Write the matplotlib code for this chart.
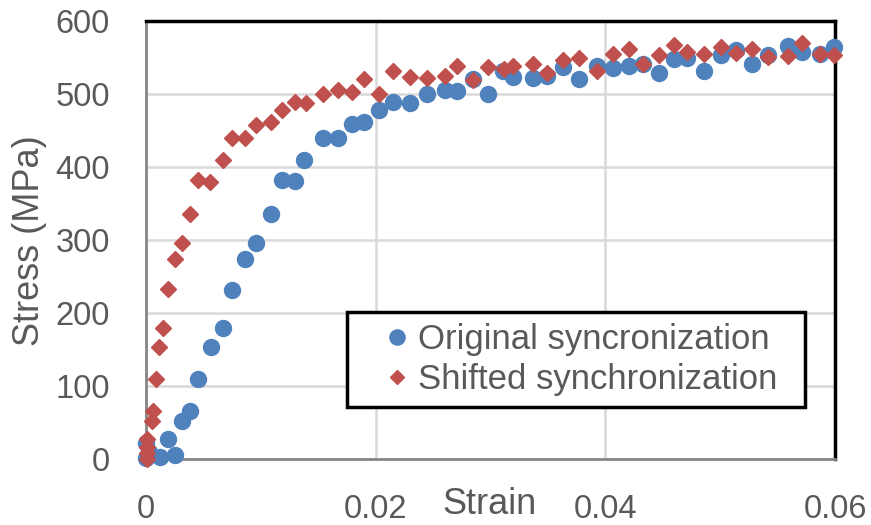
import matplotlib
matplotlib.use("Agg")
import matplotlib.pyplot as plt
from matplotlib.patches import Rectangle

# ---- data ----
orig_strain = [0.0000, 0.0000, 0.0003, 0.0012, 0.0019, 0.0025, 0.0031, 0.0038,
               0.0045, 0.0057, 0.0067, 0.0075, 0.0086, 0.0096, 0.0109, 0.0118,
               0.0130, 0.0138, 0.0154, 0.0167, 0.0179, 0.0190, 0.0203, 0.0215,
               0.0230, 0.0245, 0.0260, 0.0271, 0.0285, 0.0298, 0.0311, 0.0320,
               0.0337, 0.0349, 0.0363, 0.0377, 0.0393, 0.0407, 0.0421, 0.0433,
               0.0447, 0.0460, 0.0471, 0.0486, 0.0501, 0.0514, 0.0528, 0.0542,
               0.0559, 0.0571, 0.0587, 0.0599]
orig_stress = [22, 1, 10, 3, 28, 5, 52, 66,
               110, 153, 179, 232, 274, 296, 336, 382,
               381, 409, 440, 440, 459, 461, 478, 489,
               488, 500, 505, 504, 521, 500, 532, 523,
               522, 525, 537, 520, 538, 535, 538, 541,
               529, 548, 549, 532, 553, 560, 541, 553,
               566, 558, 555, 565]

shift_strain = [0.0001, 0.0001, 0.0001, 0.0001, 0.0005, 0.0006, 0.0009, 0.0011,
                0.0015, 0.0019, 0.0025, 0.0031, 0.0038, 0.0045, 0.0056, 0.0067,
                0.0075, 0.0086, 0.0096, 0.0109, 0.0118, 0.0130, 0.0139, 0.0154,
                0.0167, 0.0179, 0.0190, 0.0203, 0.0215, 0.0230, 0.0245, 0.0260,
                0.0271, 0.0285, 0.0298, 0.0312, 0.0320, 0.0337, 0.0349, 0.0363,
                0.0377, 0.0393, 0.0407, 0.0421, 0.0433, 0.0447, 0.0460, 0.0471,
                0.0486, 0.0501, 0.0514, 0.0528, 0.0542, 0.0559, 0.0571, 0.0587,
                0.0599]
shift_stress = [0, 8, 17, 28, 52, 66, 110, 153,
                180, 233, 274, 296, 336, 382, 380, 409,
                440, 440, 458, 461, 478, 489, 487, 500,
                505, 503, 521, 500, 531, 523, 522, 525,
                538, 519, 537, 534, 538, 541, 529, 547,
                549, 531, 555, 561, 541, 553, 567, 558,
                555, 565, 556, 562, 550, 552, 570, 555,
                553]

x_ticks = [0, 0.02, 0.04, 0.06]
x_tick_labels = ["0", "0.02", "0.04", "0.06"]
y_ticks = [0, 100, 200, 300, 400, 500, 600]
series_labels = ["Original syncronization", "Shifted synchronization"]

# ---- figure ----
W, H = 871, 525
fig = plt.figure(figsize=(W / 100, H / 100), dpi=100)
plt.rcParams['font.family'] = ['Liberation Sans', 'DejaVu Sans']
txt = '#595959'

ax = fig.add_axes([146 / W, 1 - 459 / H, (835 - 146) / W, (459 - 21) / H])
ax.set_xlim(0, 0.06)
ax.set_ylim(0, 600)
ax.set_xticks(x_ticks)
ax.set_xticklabels(x_tick_labels)
ax.set_yticks(y_ticks)

ax.grid(True, color='#D9D9D9', linewidth=1.8)
ax.set_axisbelow(True)

for s in ['top', 'right']:
    ax.spines[s].set_color('black')
    ax.spines[s].set_linewidth(2.5)
for s in ['left', 'bottom']:
    ax.spines[s].set_color('#868686')
    ax.spines[s].set_linewidth(2.0)

ax.tick_params(axis='both', length=0, labelsize=23.5, labelcolor=txt)
ax.tick_params(axis='x', pad=25)
ax.tick_params(axis='y', pad=26)

ax.plot(orig_strain, orig_stress, linestyle='none', marker='o', ms=11.5,
        color='#4F81BD', mec='#4F81BD', clip_on=False, zorder=4,
        label=series_labels[0])
ax.plot(shift_strain, shift_stress, linestyle='none', marker='D', ms=7.8,
        color='#C0504D', mec='#C0504D', clip_on=False, zorder=5,
        label=series_labels[1])

# legend box
rect = Rectangle((347 / W, 1 - 407 / H), 458 / W, 95 / H, transform=fig.transFigure,
                 facecolor='white', edgecolor='black', linewidth=2.5, zorder=6)
ax.add_patch(rect)
leg = ax.legend(loc='center left', bbox_to_anchor=(383 / W, 1 - 359.5 / H),
                bbox_transform=fig.transFigure, frameon=False, fontsize=25,
                borderpad=0, borderaxespad=0, handlelength=0.8,
                handletextpad=0.2, labelspacing=0.22, markerscale=0.95)
leg.set_zorder(7)
for t in leg.get_texts():
    t.set_color(txt)

fig.text(30 / W, 1 - 241 / H, "Stress (MPa)", rotation=90, ha='center',
         va='center', fontsize=26, color=txt)
fig.text(490 / W, 1 - 505 / H, "Strain", ha='center', va='center',
         fontsize=26, color=txt)

fig.savefig("out.png", dpi=100)
